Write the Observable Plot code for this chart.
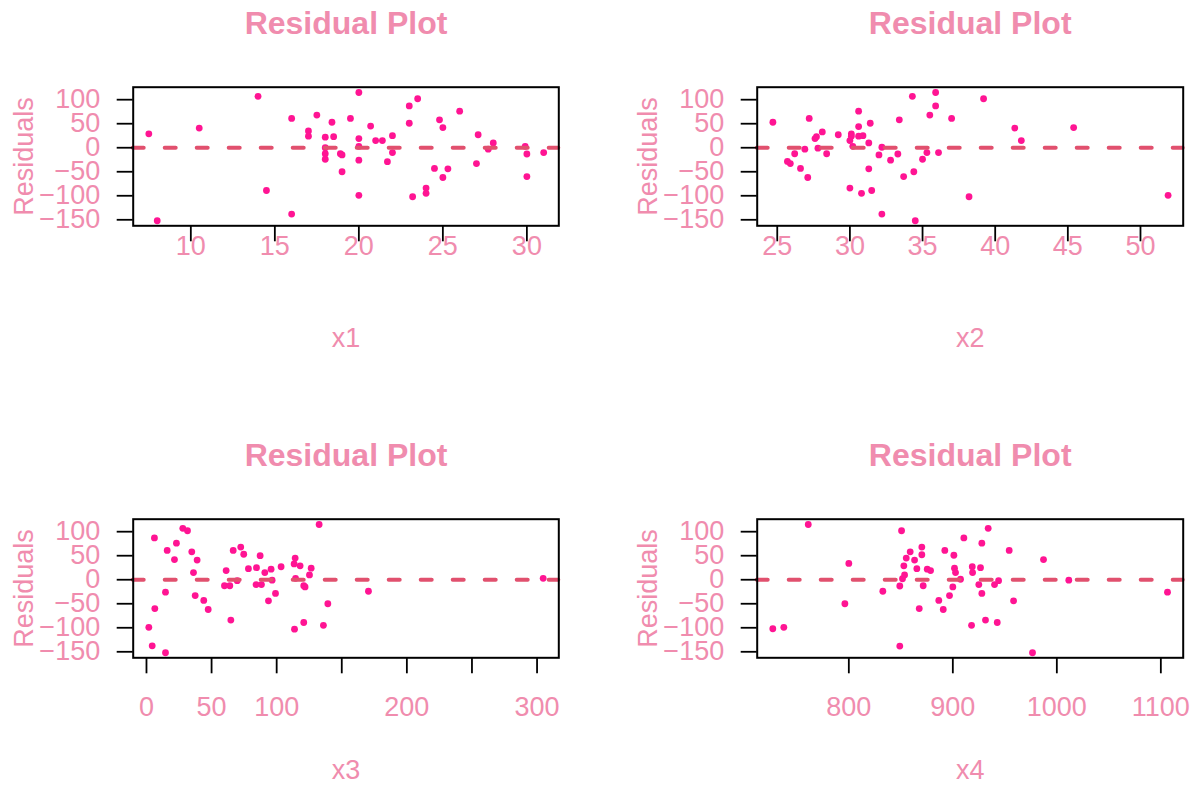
<!DOCTYPE html>
<html><head><meta charset="utf-8">
<script src="https://cdn.jsdelivr.net/npm/d3@7"></script>
<script src="https://cdn.jsdelivr.net/npm/@observablehq/plot@0.6"></script>
<style>
html,body{margin:0;padding:0;background:#fff;}
#fig{position:relative;width:1195px;height:785px;overflow:hidden;background:#fff;}
.panel{position:absolute;}
</style></head><body><div id="fig"></div>
<script>
// ---- data ----
const x1 = [7.5,8.0,10.5,14.0,14.5,16.0,16.0,17.0,17.0,17.5,18.0,18.0,18.0,18.0,18.4,18.5,18.9,19.0,19.0,19.5,20.0,20.0,20.0,20.0,20.0,20.7,21.0,21.4,21.7,22.0,22.0,23.0,23.0,23.2,23.5,24.0,24.0,24.5,24.8,25.0,25.0,25.3,26.0,27.0,27.1,27.7,28.0,29.9,30.0,30.0,31.0];
const res1 = [29,-152,41,107,-89,61,-138,35,24,68,22,0,-12.5,-24,53,23,-12.5,-15,-50,61,115,19,3,-26,-99,45,15,15,-29,25,-10,87,51,-102,102,-84,-95,-43,58,42,-62,-44,76,-33,27,-3,10,3,-13,-60,-10];

const x2 = [24.7,25.7,25.9,26.2,26.6,26.9,27.1,27.2,27.6,27.7,27.8,28.1,28.4,29.2,30.0,30.0,30.1,30.1,30.2,30.6,30.6,30.6,30.9,30.8,31.3,31.3,31.4,31.5,32.0,32.2,32.2,32.8,33.3,33.4,33.7,34.3,34.4,34.5,35.0,35.3,35.5,35.9,35.9,36.1,37.0,38.2,39.2,41.35,41.8,45.4,51.9];
const res2 = [53,-28.5,-33,-12.5,-43,-3,-62,61,19,23,-1,33,-12.5,27,-84,15,29,24,3,76,44,24,25,-95,10,-44,51,-89,-15,1,-138,-26,-13,58,-60,107,-50,-152,-24,-10,68,115,87,-10,61,-102,102,41,15,42,-99];

const x3 = [1.8,4.4,6.1,6.4,14.6,14.6,15.9,21.5,23.0,27.9,31.5,34.8,36.1,37.4,38.9,44.0,47.4,59.9,61.2,64.0,64.8,66.6,69.7,72.4,74.7,78.3,84.2,84.5,87.3,88.3,90.9,93.7,95.7,96.5,99.1,103.4,113.4,114.2,113.7,114.5,118.0,120.8,121.8,120.8,125.2,126.5,132.6,135.9,139.3,170.5,304.7];
const res3 = [-99,-137.5,87,-60,-152,-26,61,42,76,107,102,58,15,-33,41,-43,-62,-12.5,19,-12.5,-84,61,-2,68,53,23,-10,25,50,-10,15,-44,22,-1,-28.5,27,33,45,-103,3,29,-12.5,-15,-89,10,24,115,-95,-50,-24,3];

const x4 = [726.9,737.5,761,796.2,800,832.7,849,849,850.7,851.6,852.9,853.6,855.2,859,863.2,865.4,867.7,870.2,870.2,871.5,875.4,878.6,886.5,890.8,892.3,896.8,900,901,901.6,902.6,907.4,910.6,918.7,919,918,925,926.6,927.9,927.9,931.4,934,940.1,942.7,944,954.2,958.4,976.6,987.2,1011.5,1106.4];
const res4 = [-102,-99,115,-50,34,-24,-138,-13,102,2,29,10,45,58,41,23,-60,68,52,-12.5,22,19,-43,-62,61,-33,-15,51,24,15,1,87,27,15,-95,-10,25,76,-28.5,-84,107,-10,-89,-2,61,-44,-152,42,-1,-26];

const xTicks1 = [10,15,20,25,30];
const xTicks2 = [25,30,35,40,45,50];
const xTicks3 = [0,50,100,150,200,250,300];
const xTicks3Shown = [0,50,100,200,300];
const xTicks4 = [800,900,1000,1100];
const yTicks = [-150,-100,-50,0,50,100];
const titleText = "Residual Plot";
const yLabelText = "Residuals";
const xLabelTexts = ["x1","x2","x3","x4"];

// ---- styling ----
const TEXT = "#F08CAE", DOT = "#FF1493", LINE = "#E1506E";
const FONT = "'Liberation Sans', Arial, Helvetica, sans-serif";
const fig = document.getElementById("fig");

function panel(cfg) {
  const data = cfg.xs.map((v, i) => ({x: v, y: cfg.ys[i]}));
  const chart = Plot.plot({
    width: cfg.width, height: cfg.height,
    marginLeft: cfg.mL, marginRight: cfg.mR, marginTop: cfg.mT, marginBottom: cfg.mB,
    style: {fontFamily: FONT, background: "white", overflow: "visible"},
    x: {domain: cfg.xDomain},
    y: {domain: [-162.5, 126]},
    marks: [
      Plot.dot(data, {x: "x", y: "y", r: 3.4, fill: DOT, stroke: "none"}),
      Plot.ruleY([0], {stroke: LINE, strokeWidth: 4, strokeDasharray: "11,21", strokeLinecap: "round"}),
      Plot.frame({stroke: "black", strokeWidth: 2}),
      Plot.axisX(cfg.xTicks, {tickSize: 16, stroke: "black", strokeWidth: 1.8, fill: "none", tickFormat: () => "", label: null}),
      Plot.axisX(cfg.xTicks, {tickSize: 0, tickPadding: cfg.xPad, stroke: "none", fill: TEXT, fontSize: 27,
        tickFormat: cfg.xFmt || (d => String(d)), label: null}),
      Plot.axisY(yTicks, {tickSize: 16, stroke: "black", strokeWidth: 1.8, fill: "none", tickFormat: () => "", label: null}),
      Plot.axisY(yTicks, {tickSize: 0, tickPadding: 33, stroke: "none", fill: TEXT, fontSize: 27, label: null}),
      Plot.text([titleText], {text: d => d, frameAnchor: "top", lineAnchor: "middle", textAnchor: "middle",
        dy: -63.8, fontSize: 32, fontWeight: "bold", fill: TEXT}),
      Plot.text([cfg.xLabel], {text: d => d, frameAnchor: "bottom", lineAnchor: "middle", textAnchor: "middle",
        dy: 112.4, fontSize: 27, fill: TEXT}),
      Plot.text([yLabelText], {text: d => d, frameAnchor: "left", lineAnchor: "middle", textAnchor: "middle",
        dx: -109, rotate: -90, fontSize: 27, fill: TEXT})
    ]
  });
  const div = document.createElement("div");
  div.className = "panel";
  div.style.left = cfg.left + "px";
  div.style.top = cfg.top + "px";
  div.appendChild(chart);
  fig.appendChild(div);
}

panel({xs: x1, ys: res1, xDomain: [6.57, 31.9], xTicks: xTicks1, xLabel: xLabelTexts[0],
  left: 0, top: 0, width: 597, height: 392, mL: 132.7, mR: 38.7, mT: 86.7, mB: 166.7, xPad: 10.4});
panel({xs: x2, ys: res2, xDomain: [23.62, 52.94], xTicks: xTicks2, xLabel: xLabelTexts[1],
  left: 597, top: 0, width: 598, height: 392, mL: 159.7, mR: 12.3, mT: 86.7, mB: 166.7, xPad: 10.4});
panel({xs: x3, ys: res3, xDomain: [-10.2, 316.7], xTicks: xTicks3, xLabel: xLabelTexts[2],
  xFmt: d => xTicks3Shown.includes(d) ? String(d) : "",
  left: 0, top: 392, width: 597, height: 393, mL: 132.7, mR: 38.7, mT: 126.7, mB: 127.7, xPad: 38.8});
panel({xs: x4, ys: res4, xDomain: [711.9, 1121.5], xTicks: xTicks4, xLabel: xLabelTexts[3],
  left: 597, top: 392, width: 598, height: 393, mL: 159.7, mR: 12.3, mT: 126.7, mB: 127.7, xPad: 38.8});
</script></body></html>
